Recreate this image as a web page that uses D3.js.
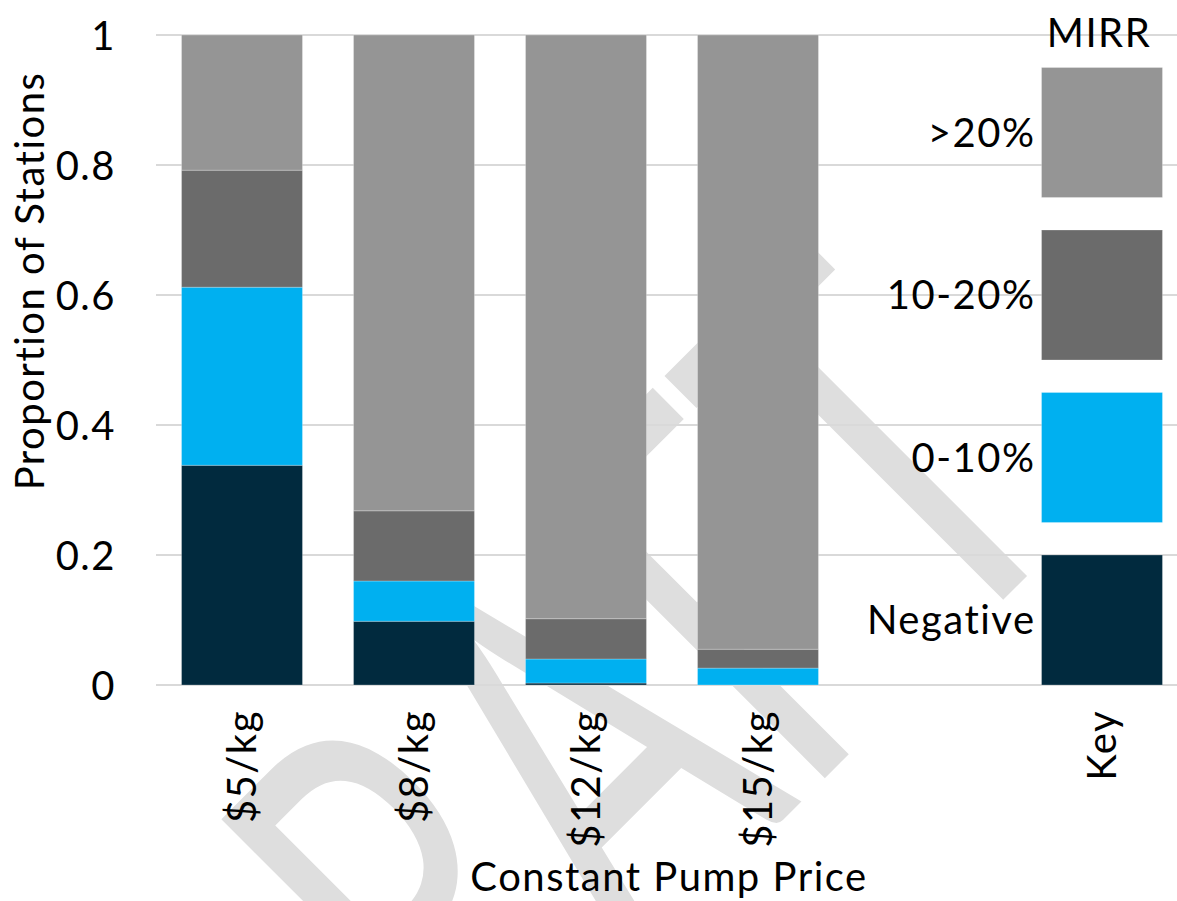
<!DOCTYPE html>
<html>
<head>
<meta charset="utf-8">
<script src="https://cdn.jsdelivr.net/npm/d3@7"></script>
<style>
  html, body { margin: 0; padding: 0; background: #fff; }
  svg { display: block; }
  text { font-family: Lato, "Open Sans", sans-serif; fill: #000; }
  .lbl { letter-spacing: 1.5px; }
</style>
</head>
<body>
<svg id="chart" width="1177" height="901"></svg>
<script>
// Pump price scenarios and share of stations in each MIRR band
const categories = ["$5/kg", "$8/kg", "$12/kg", "$15/kg"];
const seriesNames = ["Negative", "0-10%", "10-20%", ">20%"];
const negative   = [0.338, 0.098, 0.003, 0.000];
const mirr0to10  = [0.274, 0.062, 0.037, 0.026];
const mirr10to20 = [0.180, 0.108, 0.062, 0.029];
const mirrOver20 = [0.208, 0.732, 0.898, 0.945];

// Key column: one block per band, separated by small gaps
const keyLabel = "Key";
const keyBlock = 0.2;
const keyGap = 0.05;

const yTicks = [0, 0.2, 0.4, 0.6, 0.8, 1];
const yTickLabels = ["0", "0.2", "0.4", "0.6", "0.8", "1"];

const colors = ["#012a3e", "#00b0f0", "#6b6b6b", "#959595"];

const svg = d3.select("#chart");
const W = 1177, H = 901;
const plotLeft = 156, plotTop = 35, plotBottom = 685;

const slots = [...categories, "", keyLabel];
const x = d3.scaleBand().domain(slots).range([plotLeft, plotLeft + 172 * slots.length])
  .paddingInner(0.297).paddingOuter(0.1485);
const y = d3.scaleLinear().domain([0, 1]).range([plotBottom, plotTop]);

// Watermark behind the plot
svg.append("text")
  .attr("transform", "translate(1088,515) rotate(-45) scale(0.63,1)")
  .attr("text-anchor", "end")
  .style("font-size", "555px")
  .style("fill", "#dedede")
  .text("DRAFT");

// Horizontal gridlines
svg.append("g").selectAll("line").data(yTicks).join("line")
  .attr("x1", plotLeft).attr("x2", W)
  .attr("y1", d => y(d)).attr("y2", d => y(d))
  .attr("stroke", "#d9d9d9").attr("stroke-width", 2);

// Y axis tick labels
const yAxis = d3.axisLeft(y).tickValues(yTicks).tickSize(0).tickPadding(0)
  .tickFormat((d, i) => yTickLabels[i]);
const gy = svg.append("g").attr("transform", "translate(116,0)").call(yAxis);
gy.select(".domain").remove();
gy.attr("font-family", null).attr("font-size", null);
gy.selectAll("text").attr("class", "lbl").style("font-size", "40px")
  .attr("fill", "#000").attr("dy", "0.35em");

// Stacked bars
const table = categories.map((c, i) => ({
  cat: c,
  "Negative": negative[i], "0-10%": mirr0to10[i], "10-20%": mirr10to20[i], ">20%": mirrOver20[i]
}));
const stacked = d3.stack().keys(seriesNames)(table);
svg.append("g").selectAll("g").data(stacked).join("g")
  .attr("fill", (d, i) => colors[i])
  .selectAll("rect").data(d => d).join("rect")
  .attr("x", d => x(d.data.cat))
  .attr("width", x.bandwidth())
  .attr("y", d => y(d[1]))
  .attr("height", d => y(d[0]) - y(d[1]))
  .attr("stroke", "rgba(255,255,255,0.25)").attr("stroke-width", 1);

// Key column with band names
const keyData = seriesNames.map((name, i) => ({
  name, color: colors[i], y0: i * (keyBlock + keyGap), y1: i * (keyBlock + keyGap) + keyBlock
}));
const key = svg.append("g");
key.selectAll("rect").data(keyData).join("rect")
  .attr("x", x(keyLabel)).attr("width", x.bandwidth())
  .attr("y", d => y(d.y1)).attr("height", d => y(d.y0) - y(d.y1))
  .attr("fill", d => d.color)
  .attr("stroke", "rgba(255,255,255,0.25)").attr("stroke-width", 1);
key.selectAll("text").data(keyData).join("text")
  .attr("class", "lbl")
  .attr("x", x(keyLabel) - 6)
  .attr("y", d => y((d.y0 + d.y1) / 2))
  .attr("dy", "0.35em")
  .attr("text-anchor", "end")
  .style("font-size", "40px")
  .text(d => d.name);
svg.append("text")
  .attr("class", "lbl")
  .attr("x", x(keyLabel) + x.bandwidth() / 2 - 3).attr("y", 47)
  .attr("text-anchor", "middle").style("font-size", "40px")
  .text("MIRR");

// Category labels, rotated
svg.append("g").selectAll("text").data(slots.filter(s => s !== "")).join("text")
  .attr("class", "lbl")
  .attr("transform", d => `translate(${x(d) + x.bandwidth() / 2},710) rotate(-90)`)
  .attr("text-anchor", "end")
  .attr("dy", "0.35em")
  .style("font-size", "40px")
  .text(d => d);

// Axis titles
svg.append("text")
  .attr("class", "lbl")
  .attr("x", 669).attr("y", 891)
  .attr("text-anchor", "middle").style("font-size", "40px")
  .text("Constant Pump Price");
svg.append("text")
  .attr("class", "lbl")
  .attr("transform", "translate(30,281) rotate(-90)")
  .attr("text-anchor", "middle").attr("dy", "0.35em")
  .style("font-size", "40px")
  .text("Proportion of Stations");
</script>
</body>
</html>
